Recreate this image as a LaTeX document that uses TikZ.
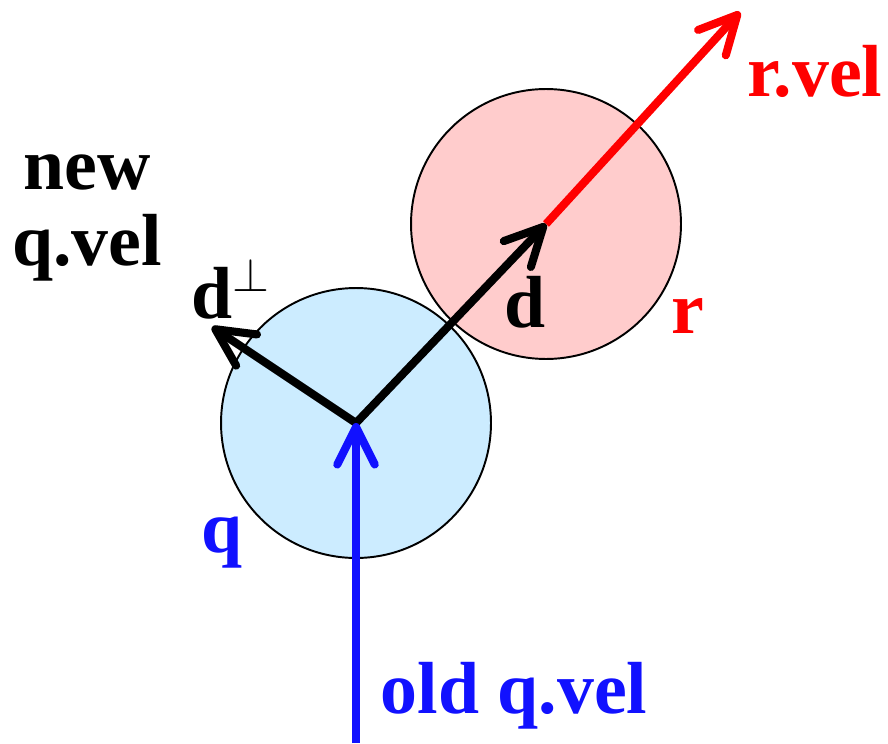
\documentclass[tikz,border=0pt]{standalone}
\usepackage{fontspec}
\setmainfont{Liberation Serif}
\usepackage{tikz}
\usetikzlibrary{arrows.meta}

\definecolor{qfill}{RGB}{204,236,255}
\definecolor{rfill}{RGB}{255,204,204}
\definecolor{qblue}{RGB}{17,17,255}
\definecolor{rred}{RGB}{255,0,0}

\begin{document}
\begin{tikzpicture}[x=0.02cm,y=-0.02cm,>={Straight Barb[length=7.5mm,width=7.5mm,round]},
 ball/.style={circle,draw,line width=1.1pt,minimum size=5.4cm,inner sep=0pt},
 vec/.style={->,line width=4.6pt},
 lbl/.style={font=\fontsize{42}{43}\selectfont\bfseries,inner sep=0pt,anchor=base}]
 \useasboundingbox (0,0) rectangle (888,743);
 % the two balls
 \node[ball,fill=qfill] (q) at (356,423) {};
 \node[ball,fill=rfill] (r) at (546,224) {};
 \coordinate (rtip) at (740,12);
 \coordinate (ptip) at (212,327);
 \coordinate (bot) at (356,743);
 % velocities
 \draw[vec,rred] (r.center)--(rtip);
 \draw[vec] (q.center)--(r.center);
 \draw[vec] (q.center)--(ptip);
 \draw[vec,qblue] (bot)--(q.center);
 % labels
 \node[lbl] (newvel) at (87,218) [anchor=center,align=center] {new\\q.vel};
 \node[lbl] (dperp) at (230,318) {d\raisebox{15pt}{\scalebox{1.3}{\fontsize{22}{22}\selectfont$\perp$}}};
 \node[lbl] (dlbl) at (525,327) {d};
 \node[lbl,rred] (rlbl) at (688,333) {r};
 \node[lbl,rred] (rvel) at (815,97) {r.vel};
 \node[lbl,qblue] (qlbl) at (222,552) {q};
 \node[lbl,qblue] (oldvel) at (514,713) {old q.vel};
\end{tikzpicture}
\end{document}
